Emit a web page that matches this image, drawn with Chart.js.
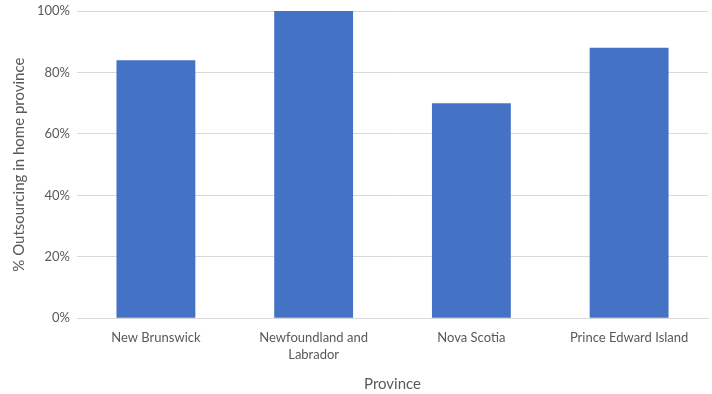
<!DOCTYPE html>
<html>
<head>
<meta charset="utf-8">
<script src="https://cdn.jsdelivr.net/npm/chart.js@4.4.1/dist/chart.umd.min.js"></script>
<style>
  html, body { margin: 0; padding: 0; background: #fff; }
  #wrap { width: 712px; height: 394px; }
</style>
</head>
<body>
<div id="wrap"><canvas id="chart"></canvas></div>
<script>
var provinces = ['New Brunswick', ['Newfoundland and', 'Labrador'], 'Nova Scotia', 'Prince Edward Island'];
var outsourcing = [84, 100, 70, 88];
var yTicks = [0, 20, 40, 60, 80, 100];

Chart.defaults.font.family = 'Lato, "Open Sans", sans-serif';
Chart.defaults.color = '#595959';

var myChart = new Chart(document.getElementById('chart'), {
    type: 'bar',
    data: {
        labels: provinces,
        datasets: [{
            label: '% Outsourcing in home province',
            data: outsourcing,
            backgroundColor: '#4472c4',
            barPercentage: 0.5,
            categoryPercentage: 1
        }]
    },
    options: {
        responsive: true,
        maintainAspectRatio: false,
        animation: false,
        layout: { padding: { top: 11, right: 4, left: 6, bottom: 1 } },
        plugins: {
            legend: { display: false },
            tooltip: { enabled: false }
        },
        scales: {
            x: {
                grid: { display: false },
                border: { color: '#d9d9d9', width: 1 },
                ticks: { font: { size: 13, lineHeight: 1.3 }, padding: 3, maxRotation: 0 },
                title: { display: true, text: 'Province', font: { size: 15 }, padding: { top: 9, bottom: 0 } }
            },
            y: {
                min: 0,
                max: 100,
                afterBuildTicks: function(axis) {
                    axis.ticks = yTicks.map(function(v) { return { value: v }; });
                },
                afterFit: function(axis) {
                    // keep the 100% line at the very top of the plot area
                    axis.paddingTop = 0;
                    axis.paddingBottom = 0;
                },
                grid: { color: '#d9d9d9', drawTicks: false },
                border: { display: false },
                ticks: {
                    font: { size: 13 },
                    padding: 7,
                    callback: function(v) { return v + '%'; }
                },
                title: { display: true, text: '% Outsourcing in home province', font: { size: 15 }, padding: { bottom: 2 } }
            }
        }
    }
});
</script>
</body>
</html>
